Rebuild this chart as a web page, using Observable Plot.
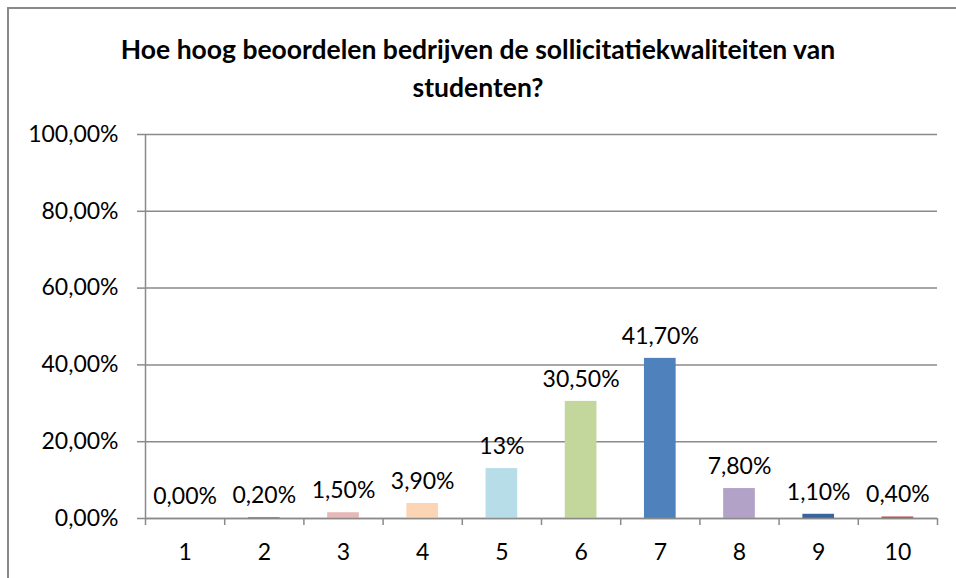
<!DOCTYPE html>
<html>
<head>
<meta charset="utf-8">
<script src="https://cdn.jsdelivr.net/npm/d3@7"></script>
<script src="https://cdn.jsdelivr.net/npm/@observablehq/plot@0.6"></script>
<style>
  html, body { margin: 0; padding: 0; background: #fff; }
  #page { position: relative; width: 956px; height: 578px; overflow: hidden; font-family: Lato, "Open Sans", sans-serif; }
  #frame { position: absolute; left: 7px; top: 7px; width: 980px; height: 620px; border: 2px solid #8a8a8a; box-sizing: border-box; }
  #title { position: absolute; left: 0; top: 30px; width: 956px; text-align: center; font-weight: bold; font-size: 26.5px; line-height: 38px; color: #000; }
  #chart { position: absolute; left: 0; top: 120px; }
</style>
</head>
<body>
<div id="page">
  <div id="frame"></div>
  <div id="title">Hoe hoog beoordelen bedrijven de sollicitatiekwaliteiten van<br>studenten?</div>
  <div id="chart"></div>
</div>
<script>
const categories = [1, 2, 3, 4, 5, 6, 7, 8, 9, 10];
const values = [0, 0.2, 1.5, 3.9, 13, 30.5, 41.7, 7.8, 1.1, 0.4];
const valueLabels = ["0,00%", "0,20%", "1,50%", "3,90%", "13%", "30,50%", "41,70%", "7,80%", "1,10%", "0,40%"];
const barColors = ["#9bbb59", "#8064a2", "#e6b9b8", "#fcd5b5", "#b7dee8", "#c3d69b", "#4f81bd", "#b3a2c7", "#3a64a0", "#c0504d"];
const yTicks = [0, 20, 40, 60, 80, 100];

const data = categories.map((c, i) => ({cat: c, value: values[i], label: valueLabels[i], color: barColors[i]}));
const boundaries = d3.range(0.5, 11, 1);
const fmt = d => d.toFixed(2).replace(".", ",") + "%";

const chart = Plot.plot({
  width: 956,
  height: 458,
  marginTop: 14,
  marginBottom: 60,
  marginLeft: 145,
  marginRight: 19,
  style: {fontFamily: "Lato, 'Open Sans', sans-serif", fontSize: "23px", color: "#000", background: "transparent"},
  x: {type: "linear", domain: [0.5, 10.5]},
  y: {domain: [0, 100]},
  marks: [
    Plot.gridY(yTicks, {stroke: "#8a8a8a", strokeOpacity: 1, strokeWidth: 1.5}),
    Plot.axisY(yTicks, {tickFormat: fmt, tickSize: 8, tickPadding: 19, stroke: "#8a8a8a", strokeWidth: 1.5, fontSize: 23, fill: "#000", label: null}),
    Plot.rectY(data, {x1: d => d.cat - 0.2, x2: d => d.cat + 0.2, y: "value", fill: "color"}),
    Plot.ruleY([0], {stroke: "#8a8a8a", strokeWidth: 1.5}),
    Plot.ruleX([0.5], {stroke: "#8a8a8a", strokeWidth: 1.5}),
    Plot.axisX(boundaries, {tickFormat: () => "", tickSize: 7, stroke: "#8a8a8a", strokeWidth: 1.5, label: null}),
    Plot.axisX(categories, {tickSize: 0, tickPadding: 25, tickFormat: d => String(d), fontSize: 23, fill: "#000", label: null}),
    Plot.text(data, {x: "cat", y: "value", text: "label", dy: -22, lineAnchor: "middle", fontSize: 23, fill: "#000"})
  ]
});
document.getElementById("chart").appendChild(chart);
</script>
</body>
</html>
